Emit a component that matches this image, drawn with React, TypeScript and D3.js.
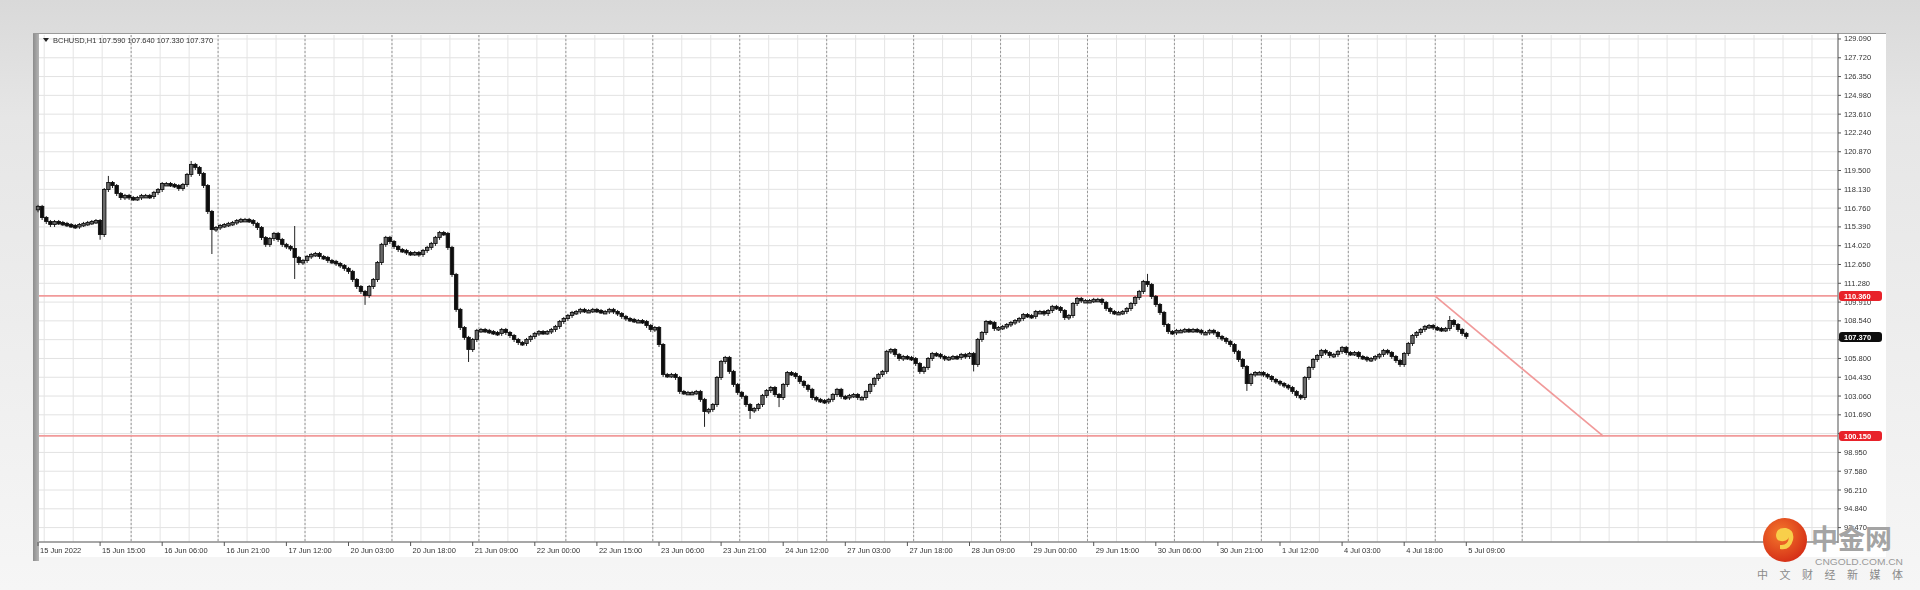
import React from 'react';
import * as d3 from 'd3';

// hourly candles, one trading day = 24 bars
const tradingDays = ['15 Jun', '16 Jun', '17 Jun', '20 Jun', '21 Jun', '22 Jun', '23 Jun', '24 Jun',
  '27 Jun', '28 Jun', '29 Jun', '30 Jun', '1 Jul', '4 Jul', '5 Jul'];

const firstOpen = 116.6;

const closes = [
  // 15 Jun
  116.85, 116.04, 115.75, 115.53, 115.75, 115.68, 115.61, 115.53, 115.46, 115.39, 115.53, 115.61,
  115.68, 115.75, 115.82, 114.80, 118.08, 118.59, 118.37, 117.79, 117.50, 117.65, 117.50, 117.43,
  // 16 Jun
  117.50, 117.65, 117.65, 117.57, 117.87, 118.08, 118.52, 118.52, 118.45, 118.37, 118.16, 118.45,
  119.18, 119.91, 119.69, 119.25, 118.37, 116.48, 115.17, 115.31, 115.46, 115.53, 115.61, 115.68,
  // 17 Jun
  115.82, 115.90, 115.90, 115.82, 115.61, 115.31, 114.58, 114.08, 114.51, 114.88, 114.44, 114.08,
  113.93, 113.78, 113.13, 112.76, 112.91, 113.20, 113.35, 113.42, 113.20, 113.13, 112.91, 112.84,
  // 20 Jun
  112.69, 112.54, 112.33, 112.11, 111.52, 111.01, 110.65, 110.36, 111.01, 111.52, 112.76, 114.08,
  114.59, 114.29, 113.93, 113.71, 113.64, 113.49, 113.42, 113.49, 113.35, 113.64, 113.86, 114.15,
  // 21 Jun
  114.59, 114.95, 114.88, 113.86, 111.89, 109.34, 108.02, 107.30, 106.42, 107.15, 107.81, 107.88,
  107.81, 107.73, 107.66, 107.59, 107.88, 107.66, 107.44, 107.15, 106.93, 106.86, 107.15, 107.37,
  // 22 Jun
  107.59, 107.73, 107.66, 107.73, 107.88, 108.10, 108.46, 108.68, 108.90, 109.12, 109.19, 109.34,
  109.26, 109.26, 109.34, 109.26, 109.19, 109.19, 109.34, 109.19, 109.04, 108.83, 108.68, 108.61,
  // 23 Jun
  108.53, 108.53, 108.46, 108.17, 107.88, 108.02, 106.78, 104.60, 104.53, 104.60, 104.38, 103.36,
  103.29, 103.29, 103.29, 103.36, 102.78, 101.90, 102.05, 102.41, 104.38, 105.55, 105.84, 104.82,
  // 24 Jun
  103.87, 103.29, 103.00, 102.41, 101.97, 102.12, 102.41, 103.07, 103.43, 103.65, 103.14, 102.92,
  103.87, 104.74, 104.67, 104.45, 104.09, 103.80, 103.51, 102.92, 102.78, 102.70, 102.63, 102.78,
  // 27 Jun
  103.14, 103.51, 103.00, 102.92, 103.07, 103.14, 102.92, 102.92, 103.36, 103.87, 104.31, 104.60,
  104.82, 106.28, 106.42, 106.06, 105.76, 105.91, 105.84, 105.76, 105.40, 104.82, 105.11, 105.76,
  // 28 Jun
  106.13, 106.06, 105.91, 105.76, 105.84, 105.91, 105.84, 106.06, 105.91, 106.13, 105.33, 107.15,
  107.66, 108.46, 108.39, 107.95, 108.02, 108.10, 108.24, 108.39, 108.53, 108.68, 108.97, 108.90,
  // 29 Jun
  108.83, 109.19, 109.19, 109.04, 109.26, 109.56, 109.48, 109.26, 108.75, 108.90, 109.77, 110.14,
  109.99, 109.99, 109.99, 110.07, 110.07, 109.85, 109.41, 109.19, 109.12, 109.12, 109.19, 109.41,
  // 30 Jun
  109.77, 110.21, 110.65, 111.38, 111.16, 110.28, 109.70, 109.12, 108.24, 107.73, 107.66, 107.81,
  107.81, 107.88, 107.81, 107.88, 107.81, 107.66, 107.66, 107.81, 107.66, 107.37, 107.22, 107.01,
  // 1 Jul
  106.78, 106.28, 105.69, 105.18, 103.94, 104.60, 104.74, 104.74, 104.60, 104.45, 104.23, 104.09,
  103.94, 103.80, 103.65, 103.36, 103.07, 102.92, 104.38, 105.11, 105.69, 105.98, 106.35, 106.20,
  // 4 Jul
  105.98, 106.06, 106.28, 106.57, 106.20, 106.13, 106.20, 105.91, 105.84, 105.69, 105.76, 105.91,
  106.06, 106.35, 106.20, 105.91, 105.62, 105.33, 106.13, 106.86, 107.44, 107.66, 107.88, 108.10,
  // 5 Jul
  108.17, 108.02, 107.95, 107.88, 107.95, 108.53, 108.24, 107.88, 107.59, 107.37,
];

// long shadows visible on the picture
const wicks = [
  { bar: 15, low: 114.6 },
  { bar: 17, high: 118.96 },
  { bar: 37, high: 120.05 },
  { bar: 42, low: 113.56 },
  { bar: 62, high: 115.31, low: 111.74 },
  { bar: 79, low: 109.85 },
  { bar: 104, low: 105.69 },
  { bar: 161, low: 100.96 },
  { bar: 172, low: 101.54 },
  { bar: 179, low: 102.4 },
  { bar: 226, low: 105.0 },
  { bar: 268, high: 111.82 },
  { bar: 292, low: 103.58 },
  { bar: 341, high: 108.75 },
];

const priceTicks = [129.09, 127.72, 126.35, 124.98, 123.61, 122.24, 120.87, 119.5, 118.13, 116.76,
  115.39, 114.02, 112.65, 111.28, 109.91, 108.54, 107.17, 105.8, 104.43, 103.06, 101.69, 100.32,
  98.95, 97.58, 96.21, 94.84, 93.47];

const levels = [110.36, 100.15];
const trendLine = [{ bar: 337.4, price: 110.36 }, { bar: 378, price: 100.15 }];

const symbol = 'BCHUSD,H1';
const labelEvery = 15;

const fmt = d3.format('.3f');
const pad = (n: number) => (n < 10 ? '0' + n : '' + n);

function barTime(b: number) {
  if (b === 0) return tradingDays[0] + ' 2022';
  return `${tradingDays[Math.floor(b / 24)]} ${pad(b % 24)}:00`;
}

export default function App() {
  const frame = { left: 33, top: 33, right: 1886, bottom: 557 };
  const plot = { left: 39, top: 35, right: 1838, bottom: 542 };

  const x = d3.scaleLinear().domain([0, closes.length - 1]).range([38, 1466.3]);
  const y = d3.scaleLinear().domain([92.42, 129.38]).range([plot.bottom, plot.top]);

  const wickMap = new Map(wicks.map(w => [w.bar, w]));
  const bars = closes.map((c, i) => {
    const o = i === 0 ? firstOpen : closes[i - 1];
    const w: any = wickMap.get(i) || {};
    return {
      i, o, c,
      h: Math.max(o, c, w.high ?? -Infinity),
      l: Math.min(o, c, w.low ?? Infinity),
    };
  });

  const maxBar = x.invert(plot.right);
  const minorGrid = d3.range(1.5, maxBar, 7);
  const majorGrid = d3.range(22.5, 365, 21);
  const timeTicks = d3.range(0, closes.length, labelEvery);
  const bodyW = 3.4;

  const last = bars[bars.length - 1];
  const header = `${symbol}  ${fmt(last.o)} ${fmt(last.h + 0.05)} ${fmt(last.l - 0.04)} ${fmt(last.c)}`;

  const tag = (price: number, fill: string, key: string) => (
    <g key={key}>
      <rect x={plot.right + 1} y={y(price) - 5} width={43} height={10} rx={3} fill={fill} />
      <text x={plot.right + 6} y={y(price) + 3} fontSize={7.5} fill="#fff" fontWeight="bold">{fmt(price)}</text>
    </g>
  );

  const trendPath = d3.line<{ bar: number; price: number }>().x(d => x(d.bar)).y(d => y(d.price));

  return (
    <svg width={1920} height={590} style={{ position: 'fixed', left: 0, top: 0 }}
      fontFamily="Liberation Sans, Arial, sans-serif">
      <defs>
        <linearGradient id="bg" x1="0" y1="0" x2="0" y2="1">
          <stop offset="0" stopColor="#d9d9d9" />
          <stop offset="0.2" stopColor="#e6e6e6" />
          <stop offset="1" stopColor="#f6f6f6" />
        </linearGradient>
        <linearGradient id="edge" x1="0" y1="0" x2="1" y2="0">
          <stop offset="0" stopColor="#8c8c8c" />
          <stop offset="1" stopColor="#b5b5b5" />
        </linearGradient>
        <radialGradient id="logo" cx="0.4" cy="0.35" r="0.7">
          <stop offset="0" stopColor="#f4782c" />
          <stop offset="1" stopColor="#d42c16" />
        </radialGradient>
        <filter id="soft"><feGaussianBlur stdDeviation="0.5" /></filter>
      </defs>
      <rect width={1920} height={590} fill="url(#bg)" />

      <g filter="url(#soft)">
        <rect x={frame.left} y={frame.top} width={frame.right - frame.left} height={frame.bottom - frame.top} fill="#fff" />
        <rect x={frame.left} y={frame.top} width={6} height={frame.bottom - frame.top + 4} fill="url(#edge)" />
        <line x1={frame.left} x2={frame.right} y1={frame.top + 0.5} y2={frame.top + 0.5} stroke="#9a9a9a" />

        {/* grid */}
        {priceTicks.map(t => (
          <line key={'h' + t} x1={plot.left} x2={plot.right} y1={y(t)} y2={y(t)} stroke="#e2e2e2" />
        ))}
        {minorGrid.map(b => (
          <line key={'v' + b} x1={x(b)} x2={x(b)} y1={plot.top} y2={plot.bottom} stroke="#e4e4e4" />
        ))}
        {majorGrid.map(b => (
          <line key={'m' + b} x1={x(b)} x2={x(b)} y1={plot.top} y2={plot.bottom}
            stroke="#999" strokeDasharray="2,2" />
        ))}

        {/* support / resistance */}
        {levels.map(l => (
          <line key={'l' + l} x1={plot.left} x2={plot.right} y1={y(l)} y2={y(l)} stroke="#f19a9a" strokeWidth={1.7} />
        ))}
        <path d={trendPath(trendLine) || ''} stroke="#f19a9a" strokeWidth={1.7} fill="none" />

        {/* candles */}
        {bars.map(d => {
          const top = y(Math.max(d.o, d.c));
          const bot = y(Math.min(d.o, d.c));
          const hgt = Math.max(bot - top, 2.5);
          const up = d.c >= d.o;
          return (
            <g key={d.i}>
              <line x1={x(d.i)} x2={x(d.i)} y1={y(d.h) - 2} y2={y(d.l) + 2} stroke="#222" />
              <rect x={x(d.i) - bodyW / 2} y={top - 0.5} width={bodyW} height={hgt}
                fill={up ? '#6a6a6a' : '#111'} stroke="#111" strokeWidth={0.9} />
            </g>
          );
        })}

        {/* axes */}
        <line x1={plot.right} x2={plot.right} y1={frame.top} y2={plot.bottom + 1} stroke="#8a8a8a" strokeWidth={1.5} />
        <line x1={plot.left} x2={plot.right} y1={plot.bottom} y2={plot.bottom} stroke="#8a8a8a" strokeWidth={1.5} />
        {priceTicks.map(t => (
          <g key={'t' + t}>
            <line x1={plot.right} x2={plot.right + 3} y1={y(t)} y2={y(t)} stroke="#555" />
            <text x={plot.right + 6} y={y(t) + 2.5} fontSize={7.5} fill="#333">{fmt(t)}</text>
          </g>
        ))}
        {timeTicks.map(b => (
          <g key={'d' + b}>
            <line x1={x(b)} x2={x(b)} y1={plot.bottom} y2={plot.bottom + 4} stroke="#555" />
            <text x={x(b) + 2} y={plot.bottom + 11} fontSize={7.5} fill="#333">{barTime(b)}</text>
          </g>
        ))}
        {levels.map(l => tag(l, '#e8222a', 'tag' + l))}
        {tag(last.c, '#111', 'last')}

        <path d={`M43,38 l6,0 l-3,4 z`} fill="#222" />
        <text x={53} y={42.5} fontSize={7.5} fill="#333">{header}</text>
      </g>

      {/* watermark */}
      <g>
        <circle cx={1785} cy={540} r={22} fill="url(#logo)" />
        <path d="M1780,549 q10,2 13,-9 q2,-10 -7,-12 q-9,-1 -10,7 q0,7 8,6 q4,-1 5,-4 q-1,9 -9,8 z"
          fill="#f8cf4a" />
        <text x={1811} y={549} fontSize={27} fontWeight="bold" fill="#a4a4a4"
          fontFamily="Noto Sans CJK SC">中金网</text>
        <text x={1815} y={565} fontSize={8.5} fill="#9a9a9a" textLength={88} lengthAdjust="spacingAndGlyphs">CNGOLD.COM.CN</text>
        <text x={1757} y={579} fontSize={11} fill="#8a8a8a" fontFamily="Noto Sans CJK SC"
          textLength={146} lengthAdjust="spacing">中文财经新媒体</text>
      </g>
    </svg>
  );
}
